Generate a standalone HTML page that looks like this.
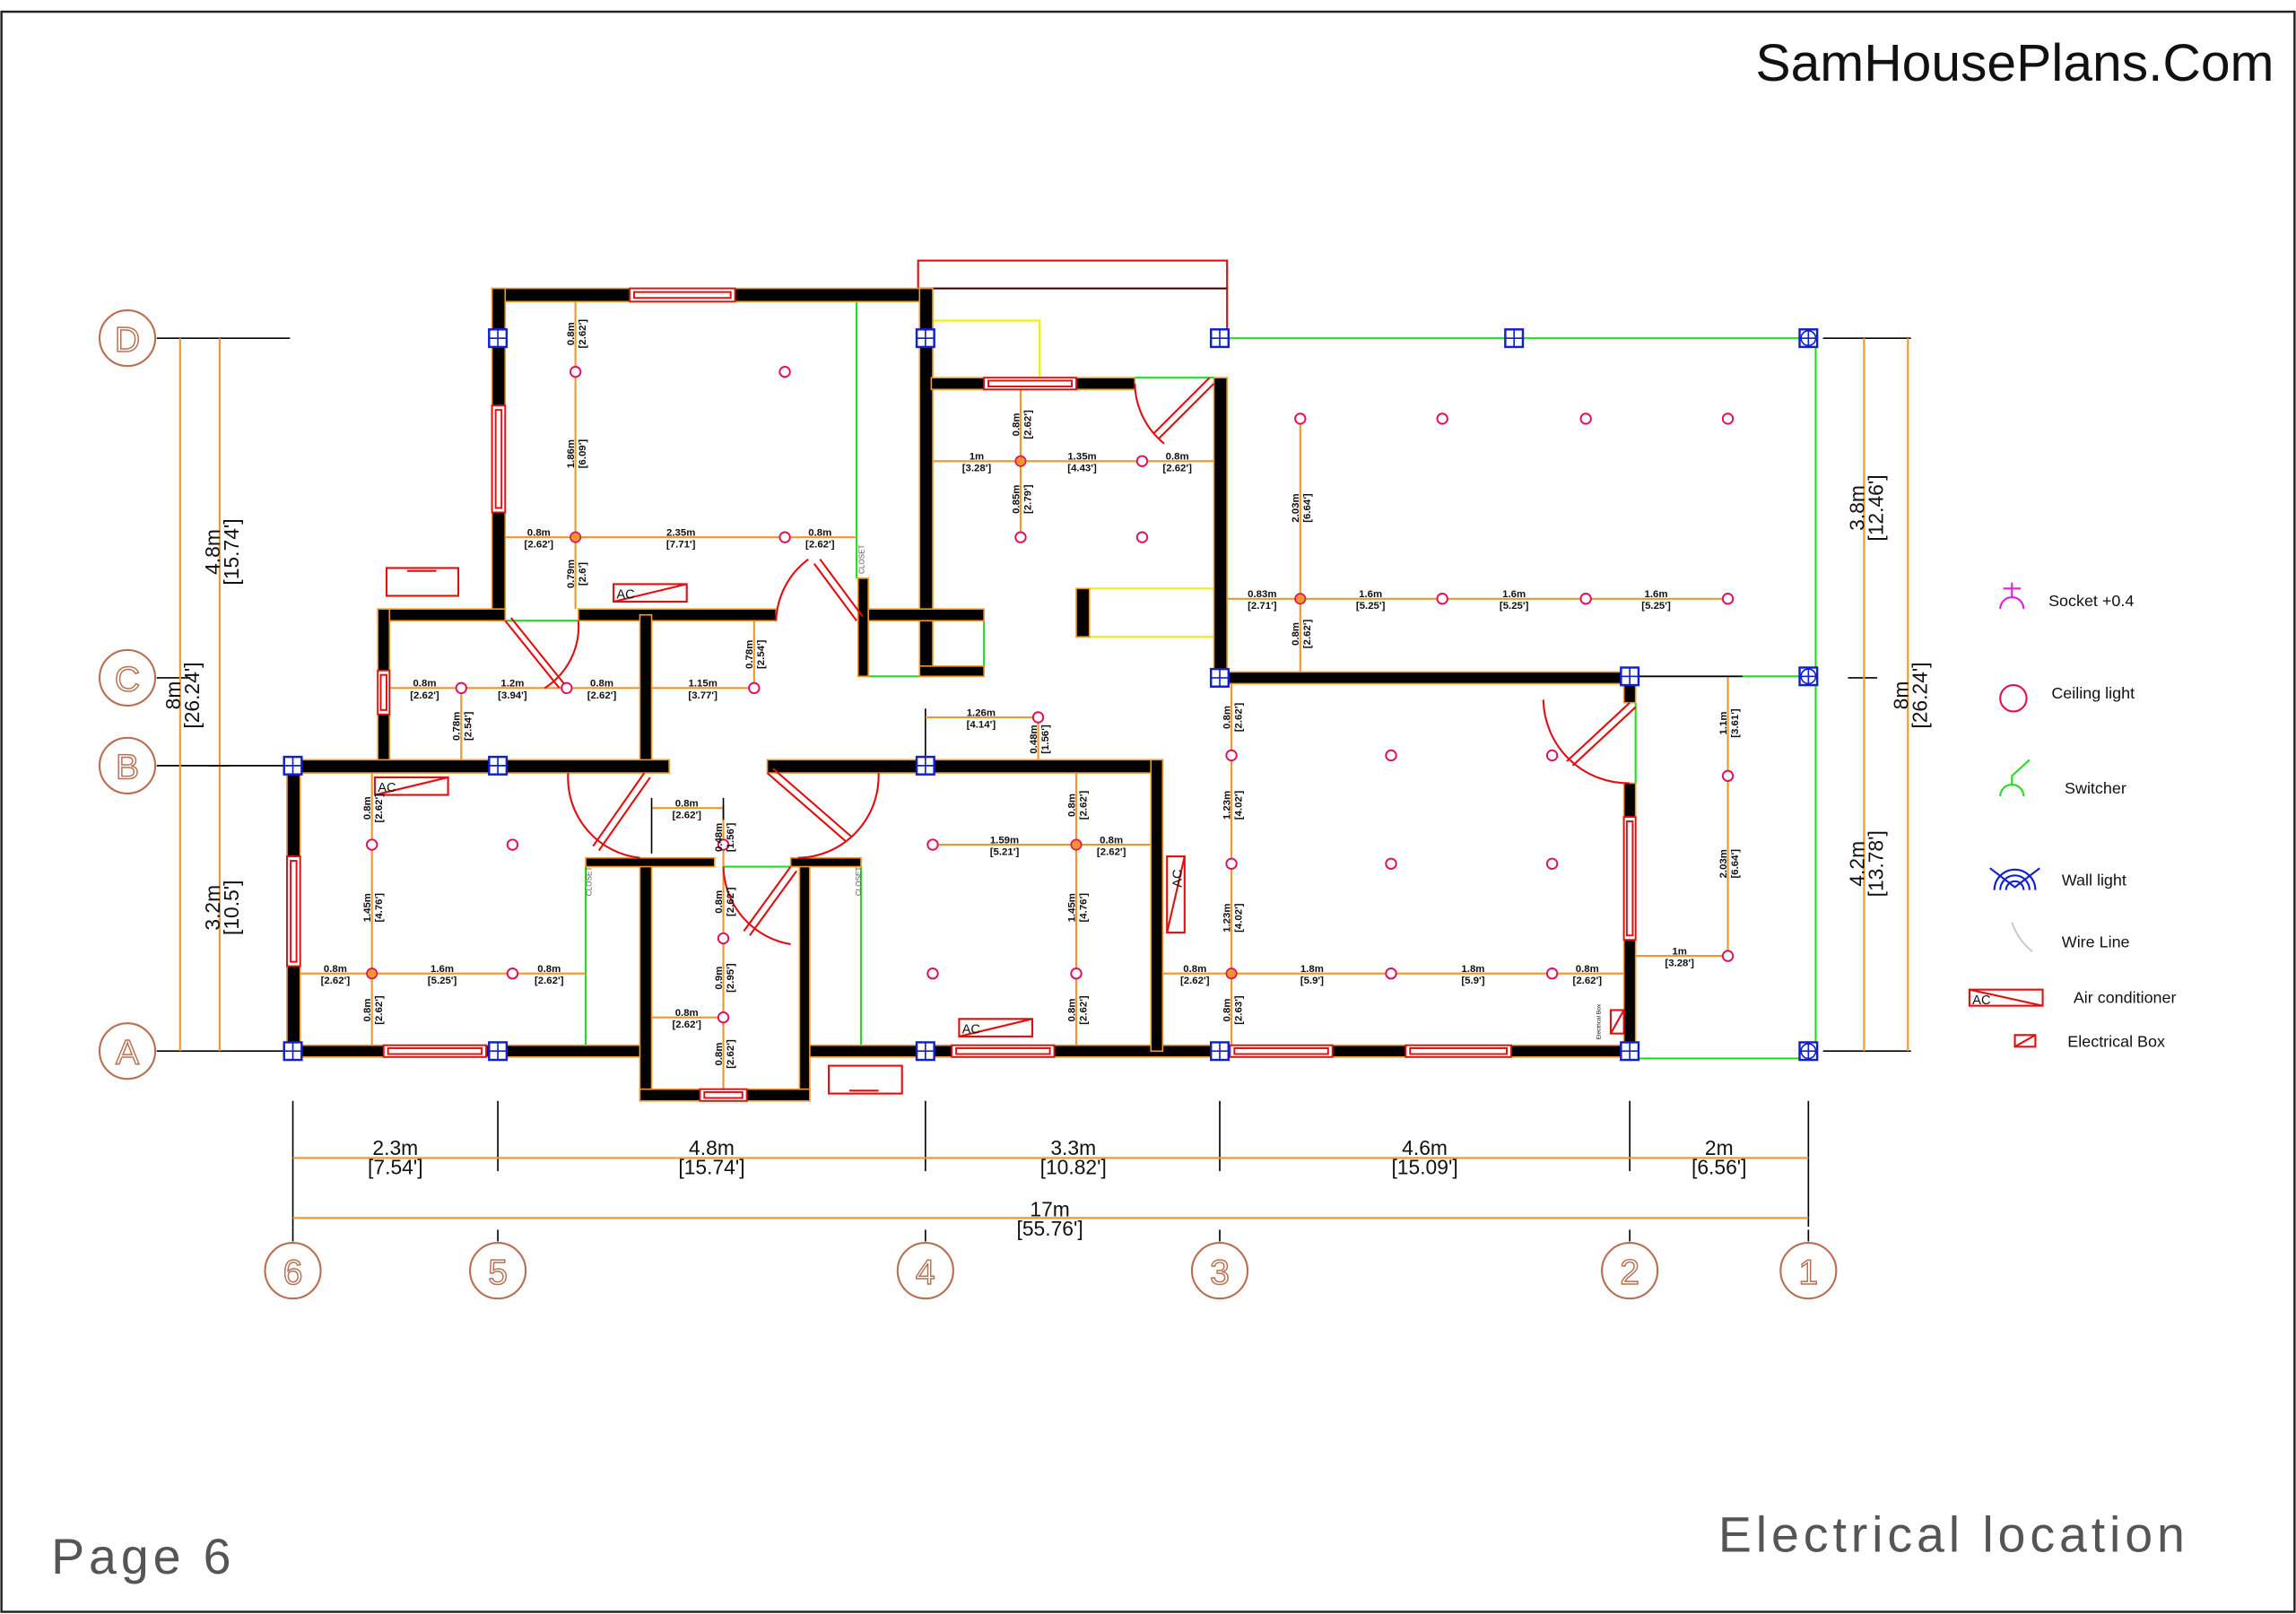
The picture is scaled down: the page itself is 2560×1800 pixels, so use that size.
<!DOCTYPE html>
<html><head><meta charset="utf-8"><style>
html,body{margin:0;padding:0;background:#fff;}
svg{display:block;}
text{font-family:"Liberation Sans",sans-serif;}
.d{font-size:7px;font-weight:bold;fill:#111;text-anchor:middle;}
.w{fill:#000;stroke:#f0962a;stroke-width:1;}
.win{fill:#fff;stroke:#e01010;stroke-width:1.2;}
.o{stroke:#f0962a;stroke-width:1.3;fill:none;}
.g{stroke:#22dd22;stroke-width:1.3;fill:none;}
.y{stroke:#f0f020;stroke-width:1.5;fill:none;}
.r{stroke:#e01010;stroke-width:1.3;fill:none;}
.l{fill:#fff;stroke:#e0105a;stroke-width:1.2;}
.lf{fill:#f0962a;stroke:#e0105a;stroke-width:1;}
.col{fill:#fff;stroke:#1020d0;stroke-width:1.5;}
.big{font-size:14px;fill:#111;text-anchor:middle;}
</style></head><body>
<svg width="2560" height="1800" viewBox="0 0 1568 1102.5" preserveAspectRatio="none" xmlns="http://www.w3.org/2000/svg">
<rect x="0" y="0" width="1568" height="1102.5" fill="#fff"/>
<rect x="1" y="8" width="1566" height="1093" fill="none" stroke="#222" stroke-width="1.5"/>
<text x="1553" y="55" font-size="36" text-anchor="end" fill="#111">SamHousePlans.Com</text>
<text x="35" y="1075" font-size="34" fill="#555" letter-spacing="3">Page 6</text>
<text x="1495" y="1060" font-size="34" fill="#555" text-anchor="end" letter-spacing="3">Electrical location</text>

<rect x="627" y="178" width="211" height="19" fill="none" stroke="#e01010" stroke-width="1.3"/>
<line x1="636" y1="197" x2="838" y2="197" stroke="#000" stroke-width="1"/>
<line x1="838" y1="197" x2="838" y2="231" class="r"/>
<polyline points="636,219 710,219 710,258" class="y"/>
<polyline points="744,402 829,402" class="y"/><polyline points="744,435 829,435" class="y"/>
<polyline points="838,231 1240,231 1240,723 1117,723" class="g"/>
<line x1="1117" y1="462" x2="1240" y2="462" class="g"/>
<line x1="1117" y1="480" x2="1117" y2="535" class="g"/>
<line x1="585" y1="205" x2="585" y2="395" class="g"/>
<line x1="345" y1="424" x2="395" y2="424" class="g"/>
<line x1="672" y1="424" x2="672" y2="455" class="g"/>
<line x1="592" y1="462" x2="628" y2="462" class="g"/>
<line x1="775" y1="258" x2="829" y2="258" class="g"/>
<line x1="400" y1="592" x2="400" y2="714" class="g"/>
<line x1="588" y1="592" x2="588" y2="714" class="g"/>
<line x1="494" y1="592" x2="540" y2="592" class="g"/>
<text x="404" y="612" font-size="5" fill="#555" transform="rotate(-90 404 612)">CLOSET</text>
<text x="588" y="612" font-size="5" fill="#555" transform="rotate(-90 588 612)">CLOSET</text>
<text x="590" y="392" font-size="5" fill="#555" transform="rotate(-90 590 392)">CLOSET</text>

<g stroke="#000" stroke-width="1">
<line x1="107" y1="231" x2="198" y2="231"/><line x1="107" y1="463" x2="130" y2="463"/>
<line x1="107" y1="523" x2="196" y2="523"/><line x1="107" y1="718" x2="196" y2="718"/>
<line x1="1245" y1="231" x2="1305" y2="231"/><line x1="1245" y1="718" x2="1305" y2="718"/>
<line x1="1262" y1="463" x2="1282" y2="463"/>
<line x1="200" y1="752" x2="200" y2="838"/><line x1="340" y1="752" x2="340" y2="800"/>
<line x1="632" y1="752" x2="632" y2="800"/><line x1="833" y1="752" x2="833" y2="800"/>
<line x1="1113" y1="752" x2="1113" y2="800"/><line x1="1235" y1="752" x2="1235" y2="838"/>
<line x1="200" y1="838" x2="200" y2="848"/><line x1="340" y1="840" x2="340" y2="848"/><line x1="632" y1="840" x2="632" y2="848"/><line x1="833" y1="840" x2="833" y2="848"/><line x1="1113" y1="840" x2="1113" y2="848"/><line x1="1235" y1="840" x2="1235" y2="848"/>
<line x1="632" y1="484" x2="632" y2="519"/>
</g>
<g class="o">
<line x1="123" y1="231" x2="123" y2="718"/><line x1="150" y1="231" x2="150" y2="718"/>
<line x1="1273" y1="231" x2="1273" y2="718"/><line x1="1303" y1="231" x2="1303" y2="718"/>
<line x1="200" y1="791" x2="1235" y2="791"/><line x1="200" y1="832" x2="1235" y2="832"/>
</g>
<line x1="143" y1="523" x2="157" y2="523" stroke="#000"/>
<g fill="none" stroke="#b87050" stroke-width="1.3">
<circle cx="87" cy="231" r="19"/><circle cx="87" cy="463" r="19"/><circle cx="87" cy="523" r="19"/><circle cx="87" cy="718" r="19"/>
<circle cx="200" cy="868" r="19"/><circle cx="340" cy="868" r="19"/><circle cx="632" cy="868" r="19"/><circle cx="833" cy="868" r="19"/><circle cx="1113" cy="868" r="19"/><circle cx="1235" cy="868" r="19"/>
</g>
<g font-size="24" fill="none" stroke="#b87050" stroke-width="0.9" text-anchor="middle">
<text x="87" y="240">D</text><text x="87" y="472">C</text><text x="87" y="532">B</text><text x="87" y="727">A</text>
<text x="200" y="877">6</text><text x="340" y="877">5</text><text x="632" y="877">4</text><text x="833" y="877">3</text><text x="1113" y="877">2</text><text x="1235" y="877">1</text>
</g>
<g class="big">
<text x="270" y="789">2.3m</text><text x="270" y="802">[7.54']</text>
<text x="486" y="789">4.8m</text><text x="486" y="802">[15.74']</text>
<text x="733" y="789">3.3m</text><text x="733" y="802">[10.82']</text>
<text x="973" y="789">4.6m</text><text x="973" y="802">[15.09']</text>
<text x="1174" y="789">2m</text><text x="1174" y="802">[6.56']</text>
<text x="717" y="831">17m</text><text x="717" y="844">[55.76']</text>
<text transform="translate(123 475) rotate(-90)"><tspan x="0" y="0">8m</tspan><tspan x="0" y="13">[26.24']</tspan></text>
<text transform="translate(150 377) rotate(-90)"><tspan x="0" y="0">4.8m</tspan><tspan x="0" y="13">[15.74']</tspan></text>
<text transform="translate(150 620) rotate(-90)"><tspan x="0" y="0">3.2m</tspan><tspan x="0" y="13">[10.5']</tspan></text>
<text transform="translate(1273 347) rotate(-90)"><tspan x="0" y="0">3.8m</tspan><tspan x="0" y="13">[12.46']</tspan></text>
<text transform="translate(1273 590) rotate(-90)"><tspan x="0" y="0">4.2m</tspan><tspan x="0" y="13">[13.78']</tspan></text>
<text transform="translate(1303 475) rotate(-90)"><tspan x="0" y="0">8m</tspan><tspan x="0" y="13">[26.24']</tspan></text>
</g>

<g class="o">
<line x1="393" y1="205" x2="393" y2="416"/><line x1="344" y1="367" x2="585" y2="367"/>
<line x1="697" y1="266" x2="697" y2="367"/><line x1="636" y1="315" x2="829" y2="315"/>
<line x1="888" y1="286" x2="888" y2="459"/><line x1="838" y1="409" x2="1180" y2="409"/>
<line x1="266" y1="470" x2="515" y2="470"/><line x1="315" y1="470" x2="315" y2="519"/><line x1="515" y1="424" x2="515" y2="470"/>
<line x1="632" y1="490" x2="709" y2="490"/><line x1="709" y1="490" x2="709" y2="519"/>
<line x1="254" y1="528" x2="254" y2="714"/><line x1="205" y1="665" x2="400" y2="665"/>
<line x1="494" y1="550" x2="494" y2="744"/><line x1="445" y1="552" x2="494" y2="552"/><line x1="445" y1="695" x2="494" y2="695"/>
<line x1="735" y1="528" x2="735" y2="714"/><line x1="637" y1="577" x2="786" y2="577"/>
<line x1="841" y1="467" x2="841" y2="714"/><line x1="794" y1="665" x2="1109" y2="665"/>
<line x1="1180" y1="462" x2="1180" y2="653"/><line x1="1117" y1="653" x2="1180" y2="653"/>
</g>
<g stroke="#000" stroke-width="1"><line x1="445" y1="545" x2="445" y2="583"/><line x1="494" y1="545" x2="494" y2="560"/><line x1="1117" y1="462" x2="1190" y2="462"/></g>

<g class="w">
<rect x="336" y="197" width="300" height="9"/>
<rect x="336" y="197" width="9" height="227"/>
<rect x="628" y="197" width="9" height="265"/>
<rect x="258" y="416" width="87" height="8"/>
<rect x="395" y="416" width="135" height="8"/>
<rect x="586" y="416" width="86" height="8"/>
<rect x="586" y="395" width="7" height="67"/>
<rect x="628" y="455" width="44" height="7"/>
<rect x="258" y="416" width="8" height="107"/>
<rect x="437" y="420" width="8" height="103"/>
<rect x="196" y="519" width="261" height="9"/>
<rect x="524" y="519" width="270" height="9"/>
<rect x="196" y="519" width="9" height="203"/>
<rect x="196" y="714" width="241" height="8"/>
<rect x="550" y="714" width="567" height="8"/>
<rect x="437" y="586" width="8" height="166"/>
<rect x="546" y="586" width="7" height="166"/>
<rect x="437" y="744" width="116" height="8"/>
<rect x="400" y="586" width="88" height="6"/>
<rect x="540" y="586" width="48" height="6"/>
<rect x="786" y="519" width="8" height="199"/>
<rect x="636" y="258" width="139" height="8"/>
<rect x="829" y="258" width="9" height="209"/>
<rect x="829" y="459" width="288" height="8"/>
<rect x="1109" y="459" width="8" height="21"/>
<rect x="1109" y="535" width="8" height="187"/>
<rect x="735" y="402" width="9" height="33"/>
</g>
<g class="win">
<rect x="430" y="197" width="72" height="9"/><rect x="433" y="199.5" width="66" height="4"/>
<rect x="336" y="277" width="9" height="73"/><rect x="338.5" y="280" width="4" height="67"/>
<rect x="258" y="458" width="8" height="30"/><rect x="260" y="461" width="4" height="24"/>
<rect x="196" y="585" width="9" height="75"/><rect x="198.5" y="588" width="4" height="69"/>
<rect x="262" y="714" width="70" height="8"/><rect x="265" y="716" width="64" height="4"/>
<rect x="478" y="744" width="32" height="8"/><rect x="481" y="746" width="26" height="4"/>
<rect x="650" y="714" width="70" height="8"/><rect x="653" y="716" width="64" height="4"/>
<rect x="840" y="714" width="70" height="8"/><rect x="843" y="716" width="64" height="4"/>
<rect x="960" y="714" width="72" height="8"/><rect x="963" y="716" width="66" height="4"/>
<rect x="1109" y="558" width="8" height="84"/><rect x="1111" y="561" width="4" height="78"/>
<rect x="672" y="258" width="63" height="8"/><rect x="675" y="260" width="57" height="4"/>
</g>
<g class="r">
<path d="M345 424 L382 470 M349 422 L386 468"/><path d="M395 424 A50 50 0 0 1 372 470"/>
<path d="M585 424 L556 385 M589 421 L560 382"/><path d="M530 424 A55 55 0 0 1 552 382"/>
<path d="M829 262 L791 300 M826 258 L788 296"/><path d="M775 262 A54 54 0 0 0 795 303"/>
<path d="M440 528 L405 578 M444 531 L409 581"/><path d="M388 528 A55 55 0 0 0 437 586"/>
<path d="M524 528 L578 575 M528 525 L582 572"/><path d="M600 528 A56 56 0 0 1 545 586"/>
<path d="M540 592 L508 636 M544 595 L512 639"/><path d="M494 592 A55 55 0 0 0 540 645"/>
<path d="M1113 480 L1070 520 M1117 483 L1074 523"/><path d="M1054 478 A58 58 0 0 0 1113 535"/>
</g>
<g class="r">
<rect x="264" y="388" width="49" height="19"/><line x1="278" y1="390" x2="298" y2="390"/>
<rect x="566" y="728" width="50" height="19"/><line x1="580" y1="745" x2="600" y2="745"/>
<rect x="419" y="399" width="50" height="12"/><line x1="419" y1="411" x2="469" y2="399"/>
<rect x="256" y="531" width="50" height="12"/><line x1="256" y1="543" x2="306" y2="531"/>
<rect x="655" y="696" width="50" height="12"/><line x1="655" y1="708" x2="705" y2="696"/>
<rect x="797" y="585" width="12" height="52"/><line x1="797" y1="637" x2="809" y2="585"/>
<rect x="1100" y="690" width="9" height="16"/><line x1="1100" y1="706" x2="1109" y2="690"/>
</g>
<g font-size="9" fill="#111"><text x="421" y="409">AC</text><text x="258" y="541">AC</text><text x="657" y="706">AC</text>
<text x="807" y="600" transform="rotate(-90 807 600)" text-anchor="middle">AC</text>
<text x="1093" y="698" font-size="4" transform="rotate(-90 1093 698)" text-anchor="middle">Electrical Box</text></g>

<g class="col">
<rect x="334" y="225" width="12" height="12"/><rect x="626" y="225" width="12" height="12"/><rect x="827" y="225" width="12" height="12"/><rect x="1028" y="225" width="12" height="12"/><rect x="1229" y="225" width="12" height="12"/>
<rect x="827" y="457" width="12" height="12"/><rect x="1107" y="456" width="12" height="12"/><rect x="1229" y="456" width="12" height="12"/>
<rect x="194" y="517" width="12" height="12"/><rect x="334" y="517" width="12" height="12"/><rect x="626" y="517" width="12" height="12"/>
<rect x="194" y="712" width="12" height="12"/><rect x="334" y="712" width="12" height="12"/><rect x="626" y="712" width="12" height="12"/><rect x="827" y="712" width="12" height="12"/><rect x="1107" y="712" width="12" height="12"/><rect x="1229" y="712" width="12" height="12"/>
</g>
<g stroke="#1020d0" stroke-width="1">
<path d="M340 225v12M334 231h12M632 225v12M626 231h12M833 225v12M827 231h12M1034 225v12M1028 231h12M1235 225v12M1229 231h12"/>
<path d="M833 457v12M827 463h12M1113 456v12M1107 462h12M1235 456v12M1229 462h12"/>
<path d="M200 517v12M194 523h12M340 517v12M334 523h12M632 517v12M626 523h12"/>
<path d="M200 712v12M194 718h12M340 712v12M334 718h12M632 712v12M626 718h12M833 712v12M827 718h12M1113 712v12M1107 718h12M1235 712v12M1229 718h12"/>
</g>
<g fill="none" stroke="#1020d0"><circle cx="1235" cy="231" r="5"/><circle cx="1235" cy="462" r="5"/><circle cx="1235" cy="718" r="5"/></g>

<g class="l">
<circle cx="393" cy="254" r="3.5"/><circle cx="536" cy="254" r="3.5"/><circle cx="536" cy="367" r="3.5"/>
<circle cx="780" cy="315" r="3.5"/><circle cx="697" cy="367" r="3.5"/><circle cx="780" cy="367" r="3.5"/>
<circle cx="888" cy="286" r="3.5"/><circle cx="985" cy="286" r="3.5"/><circle cx="1083" cy="286" r="3.5"/><circle cx="1180" cy="286" r="3.5"/>
<circle cx="985" cy="409" r="3.5"/><circle cx="1083" cy="409" r="3.5"/><circle cx="1180" cy="409" r="3.5"/>
<circle cx="315" cy="470" r="3.5"/><circle cx="387" cy="470" r="3.5"/><circle cx="515" cy="470" r="3.5"/>
<circle cx="709" cy="490" r="3.5"/>
<circle cx="254" cy="577" r="3.5"/><circle cx="350" cy="577" r="3.5"/><circle cx="350" cy="665" r="3.5"/>
<circle cx="494" cy="577" r="3.5"/><circle cx="494" cy="641" r="3.5"/><circle cx="494" cy="695" r="3.5"/>
<circle cx="637" cy="577" r="3.5"/><circle cx="637" cy="665" r="3.5"/><circle cx="735" cy="665" r="3.5"/>
<circle cx="841" cy="516" r="3.5"/><circle cx="950" cy="516" r="3.5"/><circle cx="1060" cy="516" r="3.5"/>
<circle cx="841" cy="590" r="3.5"/><circle cx="950" cy="590" r="3.5"/><circle cx="1060" cy="590" r="3.5"/>
<circle cx="950" cy="665" r="3.5"/><circle cx="1060" cy="665" r="3.5"/>
<circle cx="1180" cy="530" r="3.5"/><circle cx="1180" cy="653" r="3.5"/>
</g>
<g class="lf"><circle cx="393" cy="367" r="3.5"/><circle cx="697" cy="315" r="3.5"/><circle cx="888" cy="409" r="3.5"/><circle cx="254" cy="665" r="3.5"/><circle cx="735" cy="577" r="3.5"/><circle cx="841" cy="665" r="3.5"/></g>

<g class="d">
<text x="368" y="366">0.8m</text><text x="368" y="374">[2.62']</text>
<text x="465" y="366">2.35m</text><text x="465" y="374">[7.71']</text>
<text x="560" y="366">0.8m</text><text x="560" y="374">[2.62']</text>
<text x="667" y="314">1m</text><text x="667" y="322">[3.28']</text>
<text x="739" y="314">1.35m</text><text x="739" y="322">[4.43']</text>
<text x="804" y="314">0.8m</text><text x="804" y="322">[2.62']</text>
<text x="862" y="408">0.83m</text><text x="862" y="416">[2.71']</text>
<text x="936" y="408">1.6m</text><text x="936" y="416">[5.25']</text>
<text x="1034" y="408">1.6m</text><text x="1034" y="416">[5.25']</text>
<text x="1131" y="408">1.6m</text><text x="1131" y="416">[5.25']</text>
<text x="290" y="469">0.8m</text><text x="290" y="477">[2.62']</text>
<text x="350" y="469">1.2m</text><text x="350" y="477">[3.94']</text>
<text x="411" y="469">0.8m</text><text x="411" y="477">[2.62']</text>
<text x="480" y="469">1.15m</text><text x="480" y="477">[3.77']</text>
<text x="670" y="489">1.26m</text><text x="670" y="497">[4.14']</text>
<text x="469" y="551">0.8m</text><text x="469" y="559">[2.62']</text>
<text x="469" y="694">0.8m</text><text x="469" y="702">[2.62']</text>
<text x="229" y="664">0.8m</text><text x="229" y="672">[2.62']</text>
<text x="302" y="664">1.6m</text><text x="302" y="672">[5.25']</text>
<text x="375" y="664">0.8m</text><text x="375" y="672">[2.62']</text>
<text x="686" y="576">1.59m</text><text x="686" y="584">[5.21']</text>
<text x="759" y="576">0.8m</text><text x="759" y="584">[2.62']</text>
<text x="816" y="664">0.8m</text><text x="816" y="672">[2.62']</text>
<text x="896" y="664">1.8m</text><text x="896" y="672">[5.9']</text>
<text x="1006" y="664">1.8m</text><text x="1006" y="672">[5.9']</text>
<text x="1084" y="664">0.8m</text><text x="1084" y="672">[2.62']</text>
<text x="1147" y="652">1m</text><text x="1147" y="660">[3.28']</text>
</g>
<g class="d">
<text transform="translate(392 228) rotate(-90)"><tspan x="0" y="0">0.8m</tspan><tspan x="0" y="8">[2.62']</tspan></text>
<text transform="translate(392 310) rotate(-90)"><tspan x="0" y="0">1.86m</tspan><tspan x="0" y="8">[6.09']</tspan></text>
<text transform="translate(392 392) rotate(-90)"><tspan x="0" y="0">0.79m</tspan><tspan x="0" y="8">[2.6']</tspan></text>
<text transform="translate(696 290) rotate(-90)"><tspan x="0" y="0">0.8m</tspan><tspan x="0" y="8">[2.62']</tspan></text>
<text transform="translate(696 341) rotate(-90)"><tspan x="0" y="0">0.85m</tspan><tspan x="0" y="8">[2.79']</tspan></text>
<text transform="translate(887 347) rotate(-90)"><tspan x="0" y="0">2.03m</tspan><tspan x="0" y="8">[6.64']</tspan></text>
<text transform="translate(887 433) rotate(-90)"><tspan x="0" y="0">0.8m</tspan><tspan x="0" y="8">[2.62']</tspan></text>
<text transform="translate(514 447) rotate(-90)"><tspan x="0" y="0">0.78m</tspan><tspan x="0" y="8">[2.54']</tspan></text>
<text transform="translate(314 496) rotate(-90)"><tspan x="0" y="0">0.78m</tspan><tspan x="0" y="8">[2.54']</tspan></text>
<text transform="translate(708 505) rotate(-90)"><tspan x="0" y="0">0.48m</tspan><tspan x="0" y="8">[1.56']</tspan></text>
<text transform="translate(253 552) rotate(-90)"><tspan x="0" y="0">0.8m</tspan><tspan x="0" y="8">[2.62']</tspan></text>
<text transform="translate(253 620) rotate(-90)"><tspan x="0" y="0">1.45m</tspan><tspan x="0" y="8">[4.76']</tspan></text>
<text transform="translate(253 690) rotate(-90)"><tspan x="0" y="0">0.8m</tspan><tspan x="0" y="8">[2.62']</tspan></text>
<text transform="translate(493 572) rotate(-90)"><tspan x="0" y="0">0.48m</tspan><tspan x="0" y="8">[1.56']</tspan></text>
<text transform="translate(493 616) rotate(-90)"><tspan x="0" y="0">0.8m</tspan><tspan x="0" y="8">[2.62']</tspan></text>
<text transform="translate(493 668) rotate(-90)"><tspan x="0" y="0">0.9m</tspan><tspan x="0" y="8">[2.95']</tspan></text>
<text transform="translate(493 720) rotate(-90)"><tspan x="0" y="0">0.8m</tspan><tspan x="0" y="8">[2.62']</tspan></text>
<text transform="translate(734 550) rotate(-90)"><tspan x="0" y="0">0.8m</tspan><tspan x="0" y="8">[2.62']</tspan></text>
<text transform="translate(734 620) rotate(-90)"><tspan x="0" y="0">1.45m</tspan><tspan x="0" y="8">[4.76']</tspan></text>
<text transform="translate(734 690) rotate(-90)"><tspan x="0" y="0">0.8m</tspan><tspan x="0" y="8">[2.62']</tspan></text>
<text transform="translate(840 490) rotate(-90)"><tspan x="0" y="0">0.8m</tspan><tspan x="0" y="8">[2.62']</tspan></text>
<text transform="translate(840 550) rotate(-90)"><tspan x="0" y="0">1.23m</tspan><tspan x="0" y="8">[4.02']</tspan></text>
<text transform="translate(840 627) rotate(-90)"><tspan x="0" y="0">1.23m</tspan><tspan x="0" y="8">[4.02']</tspan></text>
<text transform="translate(840 690) rotate(-90)"><tspan x="0" y="0">0.8m</tspan><tspan x="0" y="8">[2.63']</tspan></text>
<text transform="translate(1179 494) rotate(-90)"><tspan x="0" y="0">1.1m</tspan><tspan x="0" y="8">[3.61']</tspan></text>
<text transform="translate(1179 590) rotate(-90)"><tspan x="0" y="0">2.03m</tspan><tspan x="0" y="8">[6.64']</tspan></text>
</g>

<g fill="none" stroke-width="1.3">
<path d="M1366 416 A8 8 0 0 1 1382 416 M1374 408 V398 M1368 402 H1380" stroke="#e020e0"/>
<circle cx="1375" cy="477" r="9" stroke="#e0105a"/>
<path d="M1366 544 A8 8 0 0 1 1382 544 M1374 536 V530 L1386 519" stroke="#22dd22"/>
<path d="M1359 593 L1376 606 L1393 593 M1362 608 A14 14 0 0 1 1390 608 M1366 608 A10 10 0 0 1 1386 608 M1370 608 A6 6 0 0 1 1382 608" stroke="#1020d0"/>
<path d="M1374 630 Q1378 642 1388 650" stroke="#ccc"/>
<rect x="1345" y="676" width="50" height="11" stroke="#e01010"/><line x1="1345" y1="676" x2="1395" y2="687" stroke="#e01010"/>
<rect x="1376" y="707" width="14" height="8" stroke="#e01010"/><line x1="1376" y1="715" x2="1390" y2="707" stroke="#e01010"/>
</g>
<g font-size="11" fill="#111">
<text x="1399" y="414">Socket +0.4</text><text x="1401" y="477">Ceiling light</text><text x="1410" y="542">Switcher</text>
<text x="1408" y="605">Wall light</text><text x="1408" y="647">Wire Line</text><text x="1416" y="685">Air conditioner</text><text x="1412" y="715">Electrical Box</text>
<text x="1347" y="686" font-size="9">AC</text>
</g>
</svg>
</body></html>
